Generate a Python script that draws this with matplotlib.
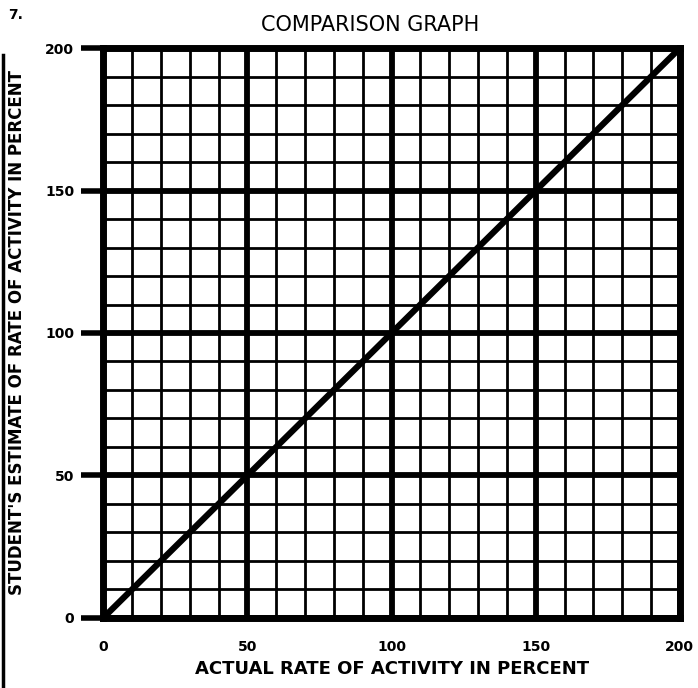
import matplotlib.pyplot as plt
import numpy as np

# Chart data
actual_rate = [0, 200]
estimated_rate = [0, 200]
major_ticks = [0, 50, 100, 150, 200]
minor_step = 10

fig = plt.figure(figsize=(6.98, 6.88), dpi=100)
ax = fig.add_axes([0.148, 0.102, 0.826, 0.828])

# Graph paper grid
minor = np.arange(0, 201, minor_step)
for v in minor:
    lw = 4.2 if v % 50 == 0 else 2.0
    ax.axvline(v, color="black", linewidth=lw, zorder=1)
    ax.axhline(v, color="black", linewidth=lw, zorder=1)

# Comparison line
ax.plot(actual_rate, estimated_rate, color="black", linewidth=4.5,
        solid_capstyle="butt", zorder=3)

ax.set_xlim(0, 200)
ax.set_ylim(0, 200)
for s in ax.spines.values():
    s.set_linewidth(5)

ax.set_xticks(major_ticks)
ax.set_yticks(major_ticks)
ax.tick_params(axis="x", length=0, pad=16, labelsize=10)
ax.tick_params(axis="y", length=16, width=4, pad=5, labelsize=10)
for lab in ax.get_xticklabels() + ax.get_yticklabels():
    lab.set_fontweight("bold")

ax.set_xlabel("ACTUAL RATE OF ACTIVITY IN PERCENT", fontsize=13,
              fontweight="bold", labelpad=4)
ax.set_ylabel("STUDENT'S ESTIMATE OF RATE OF ACTIVITY IN PERCENT", fontsize=12,
              fontweight="bold", labelpad=14)

fig.text(0.53, 0.963, "COMPARISON GRAPH", ha="center", va="center",
         fontsize=15, family=["Liberation Sans Narrow", "DejaVu Sans"])
fig.text(0.012, 0.978, "7.", ha="left", va="center", fontsize=10, fontweight="bold")

# scan border on the left edge
fig.add_artist(plt.Line2D([0.004, 0.004], [0.0, 0.92], color="black", linewidth=2.5))

plt.savefig("out.png", dpi=100)
plt.close()
